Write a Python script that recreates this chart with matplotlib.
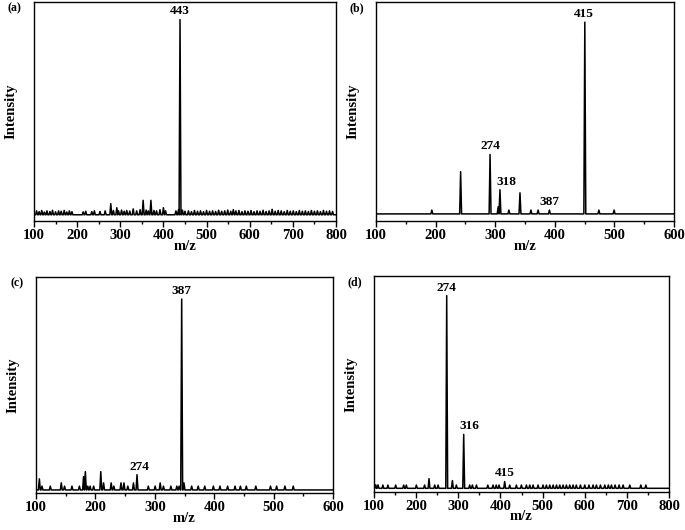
import matplotlib
matplotlib.use("Agg")
import matplotlib.pyplot as plt
from matplotlib.ticker import MultipleLocator

plt.rcParams['font.family'] = ['Liberation Serif', 'DejaVu Serif']
plt.rcParams['font.weight'] = 'bold'

# (a) peaks: m/z and relative intensity
a_mz = [106, 112, 118, 124, 130, 137, 143, 150, 157, 163, 170, 176, 182, 188,
        214, 220, 234, 240, 253, 265, 278, 284, 292, 296, 303, 309, 315, 322,
        330, 338, 346, 353, 360, 365, 371, 378, 384, 392, 400, 405,
        429, 435, 438.5, 444, 450, 458, 465, 472, 479, 486, 493, 500, 507,
        514, 521, 528, 535, 542, 549, 556, 562, 568, 575, 582, 589, 596, 603,
        610, 617, 624, 631, 638, 645, 652, 659, 666, 673, 680, 687, 694, 701,
        708, 715, 722, 729, 736, 743, 750, 757, 764, 771, 778, 785, 792]
a_int = [2.0, 1.6, 2.2, 1.4, 2.0, 1.7, 2.3, 1.5, 2.0, 1.8, 2.2, 1.4, 2.0, 1.6,
         1.5, 1.8, 1.6, 2.0, 1.7, 2.0, 5.7, 2.2, 3.6, 2.0, 2.4, 1.8, 2.2, 1.9,
         3.0, 2.0, 2.6, 7.4, 2.4, 2.0, 7.4, 2.2, 2.0, 2.6, 3.6, 2.0,
         2.0, 2.6, 100, 2.4, 1.8, 2.0, 1.6, 2.2, 1.8, 2.0, 1.6, 2.2, 1.8,
         2.0, 1.7, 2.3, 1.8, 2.0, 2.4, 1.8, 2.6, 2.0, 2.2, 1.6, 2.0, 1.8, 2.2,
         1.6, 2.0, 1.8, 2.3, 1.7, 2.0, 2.8, 1.8, 2.2, 2.0, 1.6, 2.2, 1.8, 2.0,
         1.6, 2.2, 1.8, 2.0, 1.7, 2.2, 1.8, 2.0, 1.6, 2.2, 1.8, 2.0, 1.7]

# (b)
b_mz = [193.7, 242, 291.4, 305, 308, 323, 341.6, 360, 372, 391, 450.4, 474, 499.5]
b_int = [2.0, 22, 31, 3.7, 12.6, 2.0, 11, 2.0, 2.0, 2.0, 100, 2.0, 2.0]

# (c)
c_mz = [105.6, 110, 124, 142.5, 148, 160.5, 173, 180, 183, 187, 191, 197,
        209, 213.7, 226.5, 231, 243, 248, 254.5, 264, 270, 289, 300.5, 309,
        314.5, 327, 337, 341, 345.2, 349, 362, 373, 384, 398.5, 409.6, 422.5,
        435, 444, 454, 470, 494.7, 505, 519, 533]
c_int = [5.8, 2.0, 2.0, 3.7, 2.0, 2.0, 2.0, 7.0, 9.6, 2.0, 2.0, 2.0,
         9.6, 3.7, 3.7, 2.0, 3.7, 3.7, 2.0, 3.7, 8.0, 2.0, 2.0, 3.7,
         2.0, 2.0, 2.0, 2.0, 100, 3.7, 2.0, 2.0, 2.0, 2.0, 2.0, 2.0,
         2.0, 2.0, 2.0, 2.0, 2.0, 2.0, 2.0, 2.0]

# (d)
d_mz = [104, 109.5, 121, 133, 151.4, 170.4, 176.7, 200.5, 220, 230.5, 244, 252,
        272.5, 286, 295.4, 312.8, 327, 333.4, 343, 370, 382.4, 390, 396.7, 410,
        422, 437.8, 449.7, 461.6, 469.5, 477.4, 489.2, 501, 509, 517, 525, 533,
        540.7, 548.6, 556.5, 564.4, 572.3, 580, 589.7, 600, 610, 619.8, 627.7,
        637.2, 647.5, 656, 663.3, 672, 681.5, 691, 706.8, 733, 745]
d_int = [1.8, 1.8, 1.7, 1.7, 1.7, 1.7, 1.7, 1.7, 1.7, 5.0, 1.7, 1.7,
         100, 4.0, 1.7, 28, 1.7, 1.7, 1.7, 1.7, 1.7, 1.7, 1.7, 3.5,
         1.7, 1.7, 1.7, 1.7, 1.7, 1.7, 1.7, 1.7, 1.7, 1.7, 1.7, 1.7,
         1.7, 1.7, 1.7, 1.7, 1.7, 1.7, 1.7, 1.7, 1.7, 1.7, 1.7,
         1.7, 1.7, 1.7, 1.7, 1.7, 1.7, 1.7, 1.7, 1.7, 1.7]

paineis = [
    ("(a)", a_mz, a_int, (100, 800), (-3.2, 109), [(438.5, 100, "443", 0)], 2.2),
    ("(b)", b_mz, b_int, (100, 600), (-3.7, 110.5),
     [(450.4, 100, "415", -1), (291.4, 31, "274", 0), (308, 12.6, "318", 5),
      (391, 2.0, "387", 0)], 1.6),
    ("(c)", c_mz, c_int, (100, 600), (-1.6, 111.5),
     [(345.2, 100, "387", 0), (270, 8.0, "274", 2)], 1.6),
    ("(d)", d_mz, d_int, (100, 800), (-1.75, 110.2),
     [(272.5, 100, "274", 0), (312.8, 28, "316", 4), (410, 3.5, "415", 0)], 2.2),
]

posicoes = [
    [0.0496, 0.583, 0.4409, 0.4132],
    [0.5489, 0.583, 0.4350, 0.4132],
    [0.0526, 0.0698, 0.4336, 0.4075],
    [0.5460, 0.0723, 0.4307, 0.4070],
]

fig = plt.figure(figsize=(6.85, 5.3), dpi=100)

for (letra, mz, inten, xl, yl, rotulos, w), pos in zip(paineis, posicoes):
    ax = fig.add_axes(pos)
    xs = [xl[0]]
    ys = [0]
    for m, h in sorted(zip(mz, inten)):
        xs += [m - w, m, m + w]
        ys += [0, h, 0]
    xs.append(xl[1])
    ys.append(0)
    ax.plot(xs, ys, color="black", lw=1.1)
    ax.set_xlim(xl)
    ax.set_ylim(yl)
    ax.xaxis.set_major_locator(MultipleLocator(100))
    ax.xaxis.set_minor_locator(MultipleLocator(50))
    ax.tick_params(axis="x", which="major", direction="out", length=4, width=1,
                   labelsize=10.5, pad=2)
    ax.tick_params(axis="x", which="minor", direction="out", length=2.5, width=1)
    ax.set_yticks([])
    for lab in ax.get_xticklabels():
        lab.set_fontweight("bold")
    ax.set_xlabel("m/z", fontsize=10.5, fontweight="bold", labelpad=-2)
    ax.set_ylabel("Intensity", fontsize=10.5, fontweight="bold", labelpad=12)
    for s in ax.spines.values():
        s.set_linewidth(1.0)
    for m, h, txt, dx in rotulos:
        ax.annotate(txt, (m, h), xytext=(dx, 1.5), textcoords="offset points",
                    ha="center", va="bottom", fontsize=9.5, fontweight="bold")
    bb = ax.get_position()
    fig.text(bb.x0 - 0.038, bb.y1 - 0.012, letra, fontsize=8.5, fontweight="bold",
             ha="left", va="center")

fig.savefig("out.png", dpi=100)
